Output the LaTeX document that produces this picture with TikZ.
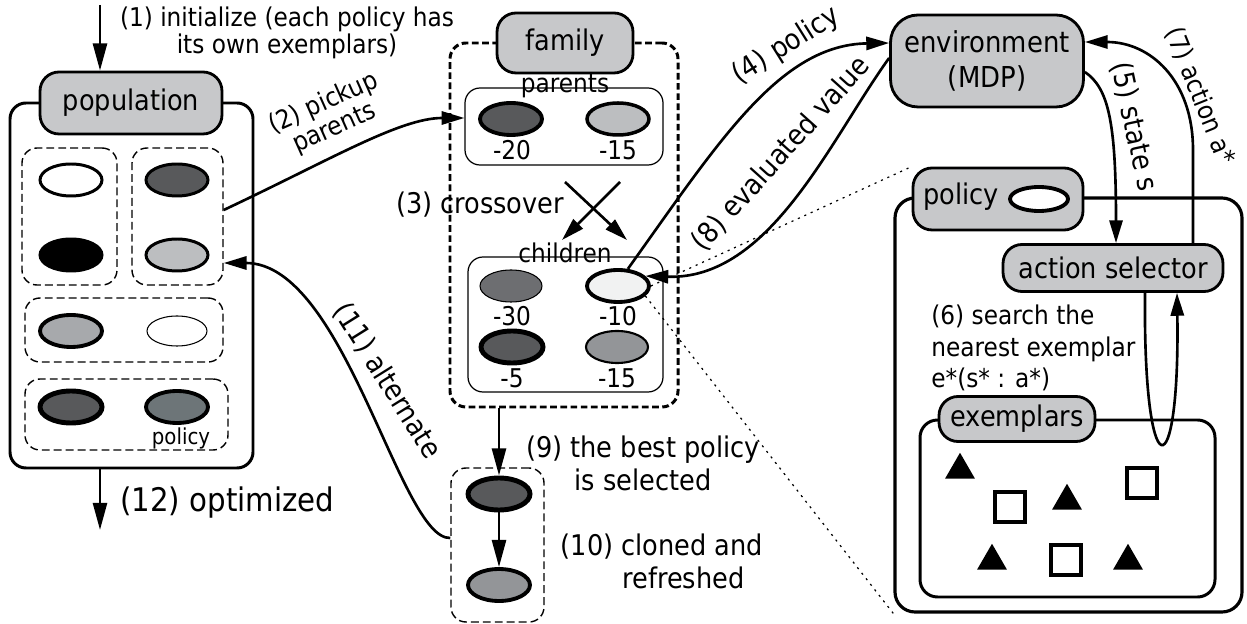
\documentclass[tikz,border=0pt]{standalone}
\usepackage{fontspec}
\setmainfont{DejaVu Sans}[FakeStretch=0.9]
\usepackage{tikz}
\usetikzlibrary{arrows.meta, positioning, shapes.geometric, fit}
\usepackage{xcolor}
\definecolor{lblgray}{HTML}{C7C8CA}
\definecolor{poldark}{HTML}{58595B}
\definecolor{pollight}{HTML}{BCBEC0}
\definecolor{polmid}{HTML}{A7A9AC}
\definecolor{polslate}{HTML}{6D7578}
\definecolor{polgray}{HTML}{6D6E71}
\definecolor{polsoft}{HTML}{939598}
\definecolor{polwhite}{HTML}{F1F2F2}
\newcommand{\fnta}{\fontsize{14.7}{15.5}\selectfont}
\newcommand{\fntb}{\fontsize{16.2}{18.7}\selectfont}
\newcommand{\fntc}{\fontsize{18.5}{21}\selectfont}
\newcommand{\fntd}{\fontsize{12.5}{14}\selectfont}

\begin{document}
\begin{tikzpicture}[x=0.02cm, y=-0.02cm,
  box/.style={draw, line width=1.7pt, rounded corners=0.32cm, inner sep=0pt},
  grp/.style={draw, line width=0.8pt, dash pattern=on 4.5pt off 2.3pt, rounded corners=0.3cm, inner sep=0pt},
  lbl/.style={draw, fill=lblgray, line width=1.6pt, rounded corners=0.38cm, inner sep=0pt, font=\fntb},
  pol/.style={ellipse, draw, inner sep=0pt, line width=1.7pt, minimum width=1.24cm, minimum height=0.64cm},
  tri/.style={regular polygon, regular polygon sides=3, fill=black, inner sep=0pt, minimum size=0.69cm},
  sq/.style={draw, fill=white, line width=2.2pt, inner sep=0pt, minimum size=0.6cm},
  flow/.style={line width=1.5pt, -{Triangle[length=13pt, width=7.5pt]}},
  vflow/.style={line width=1.5pt, -{Triangle[length=15.5pt, width=8pt]}},
  txt/.style={font=\fnta, inner sep=0pt},
  zoomline/.style={line width=0.7pt, dash pattern=on 1.2pt off 2.8pt}
]
  \useasboundingbox (0,0) rectangle (1247,624);

  % population
  \node[box, fit={(10,103) (253,468)}] (pop) {};
  \node[lbl, minimum width=3.64cm, minimum height=1.24cm] (poplbl) at (131,103) {population};
  \node[grp, fit={(22,148) (117,285)}] (grpa) {};
  \node[grp, fit={(132,148) (223,285)}] (grpb) {};
  \node[grp, fit={(25,298) (223,362)}] (grpc) {};
  \node[grp, fit={(25,379) (228,450)}] (grpd) {};
  \node[pol, fill=white] (pa1) at (71,180) {};
  \node[pol, fill=black] (pa2) at (71,255) {};
  \node[pol, fill=poldark] (pb1) at (177,180) {};
  \node[pol, fill=pollight] (pb2) at (177,255) {};
  \node[pol, fill=polmid, line width=2.2pt] (pc1) at (71,331) {};
  \node[pol, fill=white, line width=0.6pt, minimum width=1.2cm, minimum height=0.6cm] (pc2) at (177,331) {};
  \node[pol, fill=poldark, line width=2.8pt] (pd1) at (71,407) {};
  \node[pol, fill=polslate, line width=2.2pt] (pd2) at (177,407) {};
  \node[font=\fntd, inner sep=0pt] at (181,438) {policy};

  % (1) and (12)
  \coordinate (start) at (100,5);
  \draw[vflow] (start) -- (start |- poplbl.north);
  \node[txt, align=center] at (287,33) {(1) initialize (each policy has\\its own exemplars)};
  \coordinate (finish) at (100,530);
  \draw[vflow] (pop.south -| finish) -- (finish);
  \node[font=\fntc, anchor=west, inner sep=0pt] at (120,503) {(12) optimized};

  % family
  \node[box, dash pattern=on 3.8pt off 2pt, fit={(450,43) (678,407)}] (fam) {};
  \node[lbl, minimum width=2.72cm, minimum height=1.2cm] (famlbl) at (565,43) {family};
  \node[box, line width=0.7pt, rounded corners=0.3cm, fit={(465,88) (663,165)}] (par) {};
  \node[txt] at (565,86) {parents};
  \node[pol, fill=poldark, line width=2.2pt] (par1) at (511,119) {};
  \node[pol, fill=pollight, line width=2pt] (par2) at (618,119) {};
  \node[txt] at (512,150) {-20};
  \node[txt] at (618,150) {-15};

  % crossover
  \coordinate (xa) at (565,182);
  \coordinate (xb) at (620,182);
  \coordinate (xc) at (562,240);
  \coordinate (xd) at (627,240);
  \draw[flow] (xa) -- (xd);
  \draw[flow] (xb) -- (xc);
  \node[txt, font=\fntb] at (480,205) {(3) crossover};

  % children
  \node[box, line width=0.7pt, rounded corners=0.3cm, fit={(468,257) (663,392)}] (chl) {};
  \node[txt] at (565,253) {children};
  \node[pol, fill=polgray, line width=0.6pt] (chl1) at (511,286) {};
  \node[pol, fill=polwhite, line width=2.2pt] (chl2) at (618,286) {};
  \node[pol, fill=poldark, line width=2.8pt] (chl3) at (512,347) {};
  \node[pol, fill=polsoft, line width=1.2pt] (chl4) at (617,347) {};
  \node[txt] at (512,316) {-30};
  \node[txt] at (618,316) {-10};
  \node[txt] at (512,378) {-5};
  \node[txt] at (617,378) {-15};

  % best policy
  \node[grp, fit={(451,468) (544,622)}] (bgrp) {};
  \node[pol, fill=poldark, line width=2.8pt] (best) at (499,494) {};
  \node[pol, fill=polsoft, line width=2.2pt] (clone) at (499,585) {};
  \draw[vflow] (fam.south -| best) -- (best.north);
  \draw[vflow] (best.south) -- (clone.north);
  \node[txt, font=\fntb, align=center] at (643,463) {(9) the best policy\\is selected};
  \node[txt, font=\fntb, align=center] at (662,561) {(10) cloned and\\\hspace*{1.5em}refreshed};

  % (2) and (11)
  \draw[flow] ([yshift=0.13cm]grpb.east) .. controls (330,160) and (400,118) .. ([yshift=0.17cm]par.west);
  \node[txt, rotate=24, align=center] at (329,116) {(2) pickup\\parents};
  \draw[flow] ([yshift=0.14cm]bgrp.west) .. controls (400,540) and (345,263) .. ([yshift=-0.93cm]grpb.east);
  \node[txt, font=\fntb, rotate=-58] at (387,381) {(11) alternate};

  % environment
  \node[lbl, minimum width=3.86cm, minimum height=1.84cm, rounded corners=0.55cm, align=center,
    font=\fontsize{16.4}{20.4}\selectfont] (env) at (987,61) {environment\\(MDP)};
  \draw[flow] (chl2.60) .. controls (720,140) and (780,45) .. ([yshift=0.36cm]env.west);
  \draw[flow] ([yshift=0.06cm]env.west) .. controls (830,140) and (770,280) .. (chl2.20);
  \node[txt, font=\fntb, rotate=32] at (786,46) {(4) policy};
  \node[txt, font=\fntb, rotate=48] at (781,154) {(8) evaluated value};

  % policy
  \node[box, line width=1.8pt, rounded corners=0.4cm, fit={(895,198) (1242,612)}] (plc) {};
  \node[lbl, minimum width=3.4cm, minimum height=1.24cm] (plclbl) at (998,199) {};
  \node[txt, font=\fntb] at (961,197) {policy};
  \node[pol, fill=white, line width=2.2pt, minimum width=1.16cm, minimum height=0.48cm] (plcpol) at (1039,199) {};
  \node[lbl, minimum width=4.4cm, minimum height=0.94cm] (sel) at (1113,268) {action selector};
  \draw[flow] ([yshift=-0.22cm]env.east) .. controls (1108,88) and (1116,120) .. ([xshift=0.06cm]sel.north);
  \coordinate (act) at (1193,150);
  \draw[flow] ([xshift=1.6cm]sel.north) -- (act) .. controls (1193,80) and (1150,42) .. ([yshift=0.38cm]env.east);
  \node[txt, font=\fntb, rotate=-78] at (1134,127) {(5) state s};
  \node[txt, rotate=-68] at (1200,96) {(7) action a*};
  \draw[flow] ([xshift=0.64cm]sel.south) .. controls (1143,492) and (1180,492) .. ([xshift=1.28cm]sel.south);
  \node[txt, anchor=west, align=left, font=\fontsize{14.7}{18.1}\selectfont] at (931,348)
    {(6) search the\\nearest exemplar\\e*(s* : a*)};

  % exemplars
  \node[box, rounded corners=0.35cm, fit={(920,420) (1215,597)}] (exm) {};
  \node[lbl, minimum width=3.12cm, minimum height=0.9cm] (exmlbl) at (1017,419) {exemplars};
  \foreach \x/\y [count=\i] in {960/470, 1067/501, 992/561, 1128/561}
    \node[tri] (tri\i) at (\x,\y) {};
  \foreach \x/\y [count=\i] in {1010/507, 1142/483, 1066/560}
    \node[sq] (sq\i) at (\x,\y) {};

  % zoom lines
  \draw[zoomline] (chl2.east) -- (plclbl.north west);
  \draw[zoomline] (chl2.-20) -- (plc.south west);
\end{tikzpicture}
\end{document}
